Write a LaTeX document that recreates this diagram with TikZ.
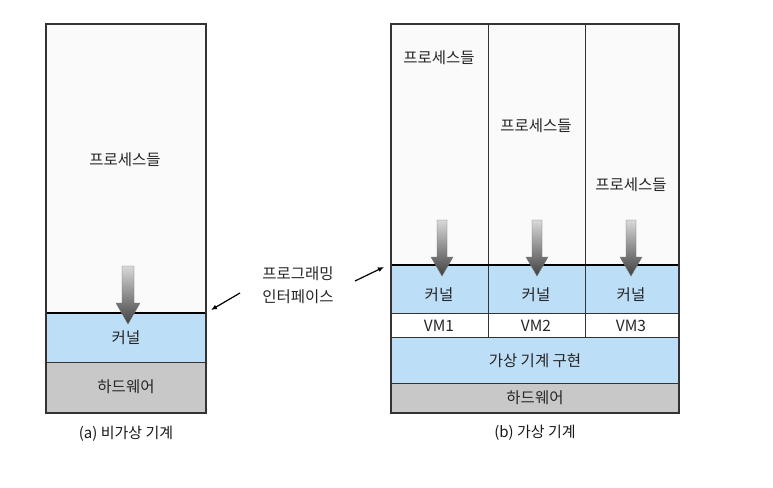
\documentclass[tikz,border=0pt]{standalone}
\usepackage{fontspec}
\setmainfont{Noto Sans CJK KR}
\usetikzlibrary{arrows.meta}
\begin{document}
\begin{tikzpicture}[x=1pt,y=-1pt,
  lbl/.style={font=\fontsize{15.5}{18}\selectfont, text=black!85, inner sep=0pt},
  captxt/.style={font=\fontsize{15}{18}\selectfont, text=black!90, inner sep=0pt},
  procfill/.style={fill=black!2},
  kernfill/.style={fill={rgb,255:red,189;green,222;blue,247}},
  hwfill/.style={fill={rgb,255:red,200;green,200;blue,200}},
  framebox/.style={draw=black!80, line width=1.1pt},
  sepline/.style={draw=black!80, line width=0.8pt},
  ifline/.style={draw=black, line width=2.2pt},
  ptr/.style={draw=black, line width=1.2pt, -{Latex[length=6pt,width=5pt]}}
]
\useasboundingbox (0,0) rectangle (773,487);
% ---------- (a) ----------
\fill[procfill] (46,24) rectangle (206,313);
\fill[kernfill] (46,313) rectangle (206,362);
\fill[hwfill] (46,362) rectangle (206,413);
\draw[sepline] (46,362) -- (206,362);
\draw[ifline] (46,313) -- (206,313);
\shade[top color=black!15, bottom color=black!75, draw=black!55, line width=0.4pt]
  (122,266) -- (134,266) -- (134,303) -- (140,303) -- (128,324) -- (116,303) -- (122,303) -- cycle;
\draw[framebox] (46,24) rectangle (206,413);
\node[lbl] (pa) at (125,160) {프로세스들};
\node[lbl] (ka) at (126,338) {커널};
\node[lbl] (ha) at (126,387) {하드웨어};
\node[captxt] (ca) at (126,434) {(a) 비가상 기계};
% ---------- (b) ----------
\fill[procfill] (391,24) rectangle (679,265);
\fill[kernfill] (391,265) rectangle (679,313);
\fill[white] (391,313) rectangle (679,337);
\fill[kernfill] (391,337) rectangle (679,383);
\fill[hwfill] (391,383) rectangle (679,413);
\draw[sepline] (488,24) -- (488,337);
\draw[sepline] (585,24) -- (585,337);
\draw[sepline] (391,313) -- (679,313);
\draw[sepline] (391,337) -- (679,337);
\draw[sepline] (391,383) -- (679,383);
\draw[ifline] (391,265) -- (679,265);
\foreach \cx in {442,537,631}{
  \shade[top color=black!15, bottom color=black!75, draw=black!55, line width=0.4pt]
    (\cx-5,220) -- (\cx+5,220) -- (\cx+5,257) -- (\cx+11,257) -- (\cx,276) -- (\cx-11,257) -- (\cx-5,257) -- cycle;
}
\draw[framebox] (391,24) rectangle (679,413);
\node[lbl] (p1) at (439,58) {프로세스들};
\node[lbl] (p2) at (536,126) {프로세스들};
\node[lbl] (p3) at (631,185) {프로세스들};
\node[lbl] (k1) at (439,295) {커널};
\node[lbl] (k2) at (536,295) {커널};
\node[lbl] (k3) at (631,295) {커널};
\node[lbl] (v1) at (439,326) {VM1};
\node[lbl] (v2) at (536,326) {VM2};
\node[lbl] (v3) at (631,326) {VM3};
\node[lbl] (vmm) at (535,361) {가상 기계 구현};
\node[lbl] (hb) at (535,398) {하드웨어};
\node[captxt] (cb) at (535,433) {(b) 가상 기계};
% ---------- interface ----------
\node[lbl, align=center] (pi) at (298,285) {프로그래밍\\[5pt]인터페이스};
\coordinate (la) at (211,310);
\coordinate (ra) at (384,267);
\draw[ptr] (240,293) -- (la);
\draw[ptr] (355,281) -- (ra);
\end{tikzpicture}
\end{document}
